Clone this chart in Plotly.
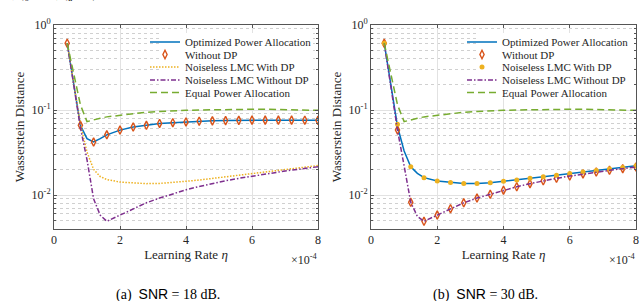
import plotly.graph_objects as go

# ---------------- data ----------------
eta_line = [0.4, 0.8, 1.0, 1.2, 1.4, 1.6, 2.0, 2.4, 2.8, 3.2, 3.6, 4.0,
            4.4, 4.8, 5.2, 5.6, 6.0, 6.4, 6.8, 7.2, 7.6, 8.0]
eta_mark = [0.4, 0.8, 1.2, 1.6, 2.0, 2.4, 2.8, 3.2, 3.6, 4.0,
            4.4, 4.8, 5.2, 5.6, 6.0, 6.4, 6.8, 7.2, 7.6, 8.0]

# (a) SNR = 18 dB
a_opt = [0.61, 0.066, 0.046, 0.042, 0.046, 0.051, 0.058, 0.063, 0.066, 0.0695, 0.071, 0.0724,
         0.0738, 0.0745, 0.075, 0.0755, 0.076, 0.076, 0.076, 0.076, 0.0758, 0.0755]
a_nodp = [0.61, 0.066, 0.042, 0.051, 0.058, 0.063, 0.066, 0.0695, 0.071, 0.0724,
          0.0738, 0.0745, 0.075, 0.0755, 0.076, 0.076, 0.076, 0.076, 0.0758, 0.0755]
a_lmc_dp = [0.61, 0.068, 0.032, 0.020, 0.0165, 0.0152, 0.0142, 0.0138, 0.0136, 0.0137, 0.014, 0.0145,
            0.015, 0.0157, 0.0164, 0.0171, 0.0179, 0.0187, 0.0195, 0.0203, 0.0212, 0.0222]
a_lmc_nodp = [0.61, 0.062, 0.026, 0.009, 0.0058, 0.0049, 0.0058, 0.0069, 0.0081, 0.0092, 0.0103, 0.0115,
              0.0126, 0.0137, 0.0147, 0.0157, 0.0167, 0.0177, 0.0186, 0.0196, 0.0205, 0.0215]
a_equal = [0.61, 0.115, 0.073, 0.077, 0.080, 0.083, 0.087, 0.091, 0.094, 0.096, 0.098, 0.099,
           0.100, 0.101, 0.102, 0.102, 0.102, 0.102, 0.101, 0.100, 0.100, 0.099]

# (b) SNR = 30 dB
b_opt = [0.61, 0.064, 0.033, 0.0215, 0.018, 0.016, 0.0146, 0.014, 0.0137, 0.0137, 0.0139, 0.0145,
         0.015, 0.0157, 0.0164, 0.0171, 0.0179, 0.0187, 0.0194, 0.0202, 0.021, 0.0221]
b_nodp = [0.61, 0.058, 0.0082, 0.0049, 0.0058, 0.0069, 0.0081, 0.0092, 0.0102, 0.0114,
          0.0125, 0.0136, 0.0147, 0.0157, 0.0167, 0.0177, 0.0186, 0.0195, 0.0204, 0.0213]
b_lmc_dp = [0.61, 0.068, 0.0215, 0.016, 0.0146, 0.014, 0.0137, 0.0137, 0.0139, 0.0145,
            0.015, 0.0157, 0.0164, 0.0171, 0.0179, 0.0187, 0.0194, 0.0202, 0.021, 0.0221]
b_lmc_nodp = [0.61, 0.058, 0.022, 0.0082, 0.0056, 0.0049, 0.0058, 0.0069, 0.0081, 0.0092, 0.0102, 0.0114,
              0.0125, 0.0136, 0.0147, 0.0157, 0.0167, 0.0177, 0.0186, 0.0195, 0.0204, 0.0213]
b_equal = [0.61, 0.115, 0.073, 0.077, 0.080, 0.083, 0.087, 0.091, 0.094, 0.096, 0.098, 0.099,
           0.100, 0.101, 0.102, 0.102, 0.102, 0.102, 0.101, 0.100, 0.100, 0.099]

names = ["Optimized Power Allocation", "Without DP", "Noiseless LMC With DP",
         "Noiseless LMC Without DP", "Equal Power Allocation"]
x_ticks = [0, 2, 4, 6, 8]
y_ticks = [0.01, 0.1, 1]
y_tick_text = ["10<sup>-2</sup>", "10<sup>-1</sup>", "10<sup>0</sup>"]
y_minor = [0.004, 0.005, 0.006, 0.007, 0.008, 0.009,
           0.02, 0.03, 0.04, 0.05, 0.06, 0.07, 0.08, 0.09,
           0.2, 0.3, 0.4, 0.5, 0.6, 0.7, 0.8, 0.9]
captions = ["(a)", "(b)"]
snr_db = [18, 30]

# ---------------- style ----------------
BLUE, ORANGE, YELLOW, PURPLE, GREEN = "#0072BD", "#D95319", "#EDB120", "#7E2F8E", "#77AC30"
SERIF = "Liberation Serif, Times New Roman, DejaVu Serif, serif"
W, H = 640, 301
LW = 1.5

fig = go.Figure()

def line(x, y, color, dash, name, xa, ya, leg):
    return go.Scatter(x=x, y=y, mode="lines", name=name, xaxis=xa, yaxis=ya, legend=leg,
                      line=dict(color=color, width=LW, dash=dash))

def marks(x, y, symbol, size, color, lw, name, xa, ya, leg):
    return go.Scatter(x=x, y=y, mode="markers", name=name, xaxis=xa, yaxis=ya, legend=leg,
                      marker=dict(symbol=symbol, size=size, color=color,
                                  line=dict(color=color, width=lw)))

DASH = "7px,4px"
DASHDOT = "5px,2px,1.5px,2px"
DOT = "1.5px,1.5px"

# panel (a)
fig.add_trace(line(eta_line, a_opt, BLUE, "solid", names[0], "x", "y", "legend"))
fig.add_trace(marks(eta_mark, a_nodp, "diamond-tall-open", 6, ORANGE, 1.4, names[1], "x", "y", "legend2"))
fig.add_trace(line(eta_line, a_lmc_dp, YELLOW, DOT, names[2], "x", "y", "legend3"))
fig.add_trace(line(eta_line, a_lmc_nodp, PURPLE, DASHDOT, names[3], "x", "y", "legend4"))
fig.add_trace(line(eta_line, a_equal, GREEN, DASH, names[4], "x", "y", "legend5"))
# panel (b)
fig.add_trace(line(eta_line, b_opt, BLUE, "solid", names[0], "x2", "y2", "legend6"))
fig.add_trace(marks(eta_mark, b_nodp, "diamond-tall-open", 6, ORANGE, 1.4, names[1], "x2", "y2", "legend7"))
fig.add_trace(marks(eta_mark, b_lmc_dp, "circle", 5, YELLOW, 0, names[2], "x2", "y2", "legend8"))
fig.add_trace(line(eta_line, b_lmc_nodp, PURPLE, DASHDOT, names[3], "x2", "y2", "legend9"))
fig.add_trace(line(eta_line, b_equal, GREEN, DASH, names[4], "x2", "y2", "legend10"))

# axes
x_domains = [[54 / W, 318 / W], [371 / W, 636 / W]]
y_domain = [1 - 229 / H, 1 - 25 / H]
axis_common = dict(showline=True, linecolor="#555555", linewidth=1, mirror="allticks",
                   ticks="inside", ticklen=3, tickcolor="#555555", automargin=False,
                   tickfont=dict(family=SERIF, size=12, color="#262626"),
                   showgrid=True, gridcolor="#e2e2e2", gridwidth=1, zeroline=False)
layout = dict(width=W, height=H, margin=dict(l=0, r=0, t=0, b=0, autoexpand=False),
              paper_bgcolor="white", plot_bgcolor="white", showlegend=True)
for i, suf in enumerate(["", "2"]):
    layout["xaxis" + suf] = dict(axis_common, domain=x_domains[i], range=[0, 8],
                                 tickmode="array", tickvals=x_ticks, anchor="y" + suf,
                                 title=dict(text="Learning Rate <i>η</i>", standoff=3,
                                            font=dict(family=SERIF, size=13, color="#262626")))
    layout["yaxis" + suf] = dict(axis_common, domain=y_domain, type="log", range=[-2.4, 0],
                                 tickmode="array", tickvals=y_ticks, ticktext=y_tick_text,
                                 anchor="x" + suf,
                                 minor=dict(tickmode="array", tickvals=y_minor, ticks="inside",
                                            ticklen=2, tickcolor="#555555", showgrid=True,
                                            gridcolor="#d0d0d0", griddash="dot", gridwidth=1),
                                 title=dict(text="Wasserstein Distance", standoff=4,
                                            font=dict(family=SERIF, size=13, color="#262626")))

# legends: one per entry so the rows can sit as tightly as in the reference
row_centers = [41, 53.5, 66, 79, 91.5]
legend_left = [145, 462]
for p in range(2):
    for r in range(5):
        idx = p * 5 + r + 1
        key = "legend" if idx == 1 else "legend%d" % idx
        layout[key] = dict(x=legend_left[p] / W, xanchor="left",
                           y=1 - (row_centers[r] - 13.5) / H, yanchor="top",
                           bgcolor="rgba(0,0,0,0)", borderwidth=0,
                           font=dict(family=SERIF, size=11, color="#262626"),
                           itemwidth=30, tracegroupgap=0)

# white backing box behind each legend (the reference legend hides the grid)
legend_box_x = [[160, 313], [478, 632]]
shapes = []
for p in range(2):
    shapes.append(dict(type="rect", xref="paper", yref="paper", layer="above",
                       x0=legend_box_x[p][0] / W, x1=legend_box_x[p][1] / W,
                       y0=1 - 98 / H, y1=1 - 33 / H,
                       fillcolor="white", line=dict(width=0)))
layout["shapes"] = shapes

annotations = []
for p in range(2):
    xr = "x" if p == 0 else "x2"
    annotations.append(dict(x=8, xref=xr, y=1 - 259 / H, yref="paper", xanchor="right",
                            yanchor="middle", xshift=2, showarrow=False,
                            text="×10<sup>-4</sup>",
                            font=dict(family=SERIF, size=12, color="#262626")))
    cx = [168, 485][p]
    annotations.append(dict(x=cx / W, xref="paper", y=1 - 294 / H, yref="paper",
                            xanchor="center", yanchor="middle", showarrow=False,
                            text="%s  <span style='font-family:Liberation Sans'>SNR</span> = %d dB."
                                 % (captions[p], snr_db[p]),
                            font=dict(family=SERIF, size=14, color="black")))
annotations.append(dict(x=4 / W, xref="paper", y=1, yref="paper", xanchor="left",
                        yanchor="bottom", yshift=-5, showarrow=False,
                        text="ℓ, ξ<sub>0</sub> = 10, ξ<sub>a</sub> = 1).",
                        font=dict(family=SERIF, size=13, color="black")))
layout["annotations"] = annotations

fig.update_layout(**layout)
fig.write_html("out.html", config={"displayModeBar": False},
               post_script="document.body.style.margin='0';")
